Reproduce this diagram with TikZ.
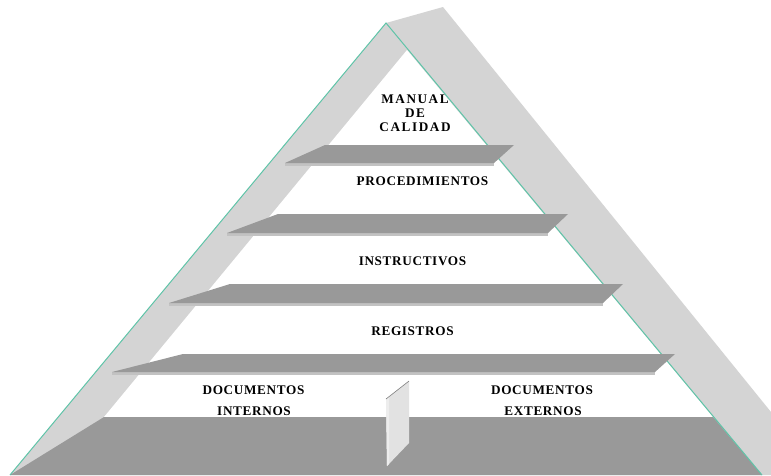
\documentclass[tikz,border=0pt]{standalone}
\usepackage{fontspec}
\newfontfamily\lblfont{Liberation Serif}[LetterSpace=5]
\newfontfamily\toplblfont{Liberation Serif}[LetterSpace=12]
\definecolor{bandgray}{HTML}{D4D4D4}
\definecolor{shelfgray}{HTML}{999999}
\definecolor{stripgray}{HTML}{C2C2C2}
\definecolor{edgeteal}{HTML}{5FC4A8}
\definecolor{panelgray}{HTML}{E2E2E2}
\tikzset{
  band/.style={fill=bandgray},
  shelf/.style={fill=shelfgray},
  lbl/.style={inner sep=0pt, font=\lblfont\bfseries\fontsize{13.2}{14.25}\selectfont}
}
\begin{document}
\begin{tikzpicture}[x=1pt, y=-1pt]
    \useasboundingbox (0,0) rectangle (771,475);
    \coordinate (top) at (386,23); \coordinate (bl) at (10,475); \coordinate (br) at (762,475);
    \coordinate (wtop) at (407,50); \coordinate (wl) at (104,417); \coordinate (wr) at (713,417);
    \coordinate (ok) at (443,7); \coordinate (oe) at (771,412);

    \fill[band] (bl) -- (top) -- (ok) -- (oe) -- (771,475) -- cycle;
    \fill[white] (wtop) -- (wr) -- (wl) -- cycle;
    \fill[shelf] (bl) -- (wl) -- (wr) -- (br) -- cycle;
    \draw[edgeteal, line width=1pt] (bl) -- (top) -- (br);

    \foreach \ty/\tl/\tr/\by/\xl/\xr in {145/325/514/163/285/494, 214/278/568/233/227/548,
        284/230/623/303/169/603, 354/183/675/372/112/655} {
        \fill[stripgray] (\xl,\by) rectangle (\xr,\by+2.5);
        \fill[shelf] (\xl,\by) -- (\tl,\ty) -- (\tr,\ty) -- (\xr,\by) -- cycle;
    }

    \fill[panelgray] (386,399) -- (409,381) -- (409,443) -- (387,466) -- cycle;
    \fill[white!93!black] (386,399) -- (389,397) -- (389,464) -- (387,466) -- cycle;
    \draw[gray, line width=0.6pt] (386,399) -- (409,381);

    \node[lbl, align=center, font=\toplblfont\bfseries\fontsize{13.2}{14.25}\selectfont] (manual) at (415,113.3) {MANUAL\\DE\\CALIDAD};
    \node[lbl] (proc) at (422.5,181) {PROCEDIMIENTOS};
    \node[lbl] (instr) at (412.5,261) {INSTRUCTIVOS};
    \node[lbl] (reg) at (412.5,331) {REGISTROS};
    \node[lbl] (docint) at (253.5,390) {DOCUMENTOS};
    \node[lbl] (intern) at (254,411) {INTERNOS};
    \node[lbl] (docext) at (542,390) {DOCUMENTOS};
    \node[lbl] (extern) at (543,411) {EXTERNOS};
\end{tikzpicture}
\end{document}
